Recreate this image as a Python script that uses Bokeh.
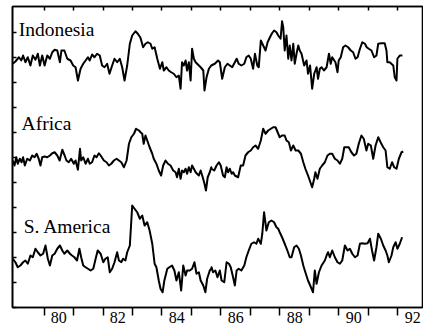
from bokeh.plotting import figure
from bokeh.models import FixedTicker, LinearAxis, Label, Range1d
from bokeh.embed import file_html
from bokeh.resources import INLINE

# ---- data (standardized anomalies) ----
indonesia_year = [1978.94, 1979.03, 1979.15, 1979.23, 1979.29, 1979.37, 1979.45, 1979.54, 1979.62, 1979.71,
                  1979.79, 1979.86, 1979.94, 1980.02, 1980.11, 1980.20, 1980.28, 1980.36, 1980.45, 1980.54,
                  1980.59, 1980.69, 1980.79, 1980.90, 1980.99, 1981.07, 1981.15, 1981.24, 1981.33, 1981.41,
                  1981.49, 1981.55, 1981.63, 1981.71, 1981.80, 1981.89, 1981.97, 1982.05, 1982.14, 1982.22,
                  1982.31, 1982.39, 1982.48, 1982.57, 1982.65, 1982.73, 1982.82, 1982.91, 1982.99, 1983.10,
                  1983.18, 1983.27, 1983.36, 1983.44, 1983.52, 1983.61, 1983.67, 1983.75, 1983.84, 1983.93,
                  1984.01, 1984.06, 1984.15, 1984.23, 1984.31, 1984.40, 1984.49, 1984.57, 1984.63, 1984.68,
                  1984.74, 1984.80, 1984.85, 1984.91, 1984.97, 1985.02, 1985.08, 1985.14, 1985.19, 1985.31,
                  1985.40, 1985.44, 1985.51, 1985.59, 1985.67,
                  1985.79, 1985.90, 1985.96, 1986.04, 1986.13, 1986.22, 1986.30, 1986.38, 1986.47, 1986.53,
                  1986.60, 1986.69, 1986.79, 1986.86, 1986.94, 1987.01, 1987.09, 1987.15, 1987.23, 1987.28,
                  1987.35, 1987.43, 1987.51, 1987.58, 1987.66, 1987.73, 1987.80, 1987.88, 1987.94, 1988.02,
                  1988.07, 1988.11, 1988.16, 1988.22, 1988.28, 1988.33, 1988.39, 1988.45, 1988.50, 1988.56,
                  1988.62, 1988.67, 1988.73, 1988.82, 1988.90, 1988.95, 1989.02, 1989.09, 1989.16, 1989.24,
                  1989.29, 1989.35, 1989.41, 1989.49, 1989.58, 1989.66, 1989.72, 1989.77, 1989.84, 1989.88,
                  1989.95, 1989.99, 1990.06, 1990.14, 1990.22, 1990.31, 1990.40, 1990.48, 1990.56, 1990.63,
                  1990.71, 1990.79, 1990.88, 1990.94, 1991.01, 1991.10, 1991.19, 1991.27, 1991.33, 1991.44,
                  1991.55, 1991.61, 1991.64, 1991.72, 1991.84, 1991.89, 1991.95, 1991.98, 1992.06, 1992.15]
indonesia_anom = [-0.25, -0.16, 0.01, -0.12, 0.08, -0.19, 0.01, -0.32, 0.08, -0.09,
                  0.15, -0.32, 0.08, -0.32, 0.08, -0.05, 0.21, 0.31, 0.28, -0.19,
                  0.28, 0.28, -0.05, -0.12, -0.32, -0.39, -0.92, -0.45, -0.25, -0.12,
                  0.01, -0.12, 0.12, 0.01, 0.15, 0.08, -0.32, -0.39, -0.25, -0.65,
                  -0.32, -0.05, -0.19, -0.05, -0.39, -0.92, -0.32, 0.55, 0.88, 1.05,
                  0.95, 0.79, 0.41, 0.55, 0.61, 0.55, 0.35, 0.41, -0.05, -0.45,
                  -0.19, -0.52, -0.39, -0.52, -0.59, -0.65, -0.79, -0.72, -1.25, -0.19,
                  -0.32, -0.12, -0.52, -0.19, -0.92, 0.35, -0.05, -0.19, -0.25, -0.39,
                  -0.52, -1.32, -0.79, -0.45, -0.32,
                  -0.25, -0.12, -0.19, -0.85, -0.39, -0.25, -0.32, -0.39, -0.19, -0.05,
                  -0.25, -0.32, -0.25, 0.01, 0.08, -0.05, -0.45, 0.15, -0.32, -0.39,
                  0.68, 0.48, 0.28, 0.61, 0.81, 0.97, 1.08, 1.01, 0.88, 0.75,
                  1.45, 1.21, 0.28, 0.88, -0.05, 0.48, -0.12, 0.55, -0.25, 0.15,
                  0.48, 0.28, 0.15, -0.32, -0.12, -0.65, -0.32, -1.25, -0.65, -0.39,
                  -0.85, -0.45, -0.39, -0.52, -0.39, 0.15, -0.25, 0.01, -0.12, -0.19,
                  -0.59, -0.12, 0.01, 0.41, 0.48, 0.41, 0.28, 0.21, -0.05, 0.01,
                  0.35, 0.61, 0.55, 0.41, 0.35, 0.28, 0.01, 0.08, 0.55, 0.57,
                  0.57, 0.28, -0.19, -0.19, -0.32, -0.79, -0.92, -0.05, 0.08, 0.08]

africa_year = [1978.94, 1979.00, 1979.06, 1979.11, 1979.18, 1979.24, 1979.29, 1979.35, 1979.43, 1979.52,
               1979.60, 1979.68, 1979.75, 1979.82, 1979.88, 1979.94, 1980.02, 1980.11, 1980.20, 1980.28,
               1980.36, 1980.45, 1980.53, 1980.62, 1980.70, 1980.76, 1980.84, 1980.92, 1981.01, 1981.07,
               1981.15, 1981.22, 1981.26, 1981.33, 1981.41, 1981.49, 1981.55, 1981.63, 1981.71, 1981.78,
               1981.86, 1981.92, 1982.03, 1982.12, 1982.20, 1982.28, 1982.37, 1982.46, 1982.54, 1982.62,
               1982.71, 1982.80, 1982.88, 1982.96, 1983.05, 1983.12, 1983.22, 1983.27, 1983.33, 1983.38,
               1983.44, 1983.50, 1983.58, 1983.67, 1983.72, 1983.81, 1983.89, 1983.97, 1984.04, 1984.12,
               1984.20, 1984.29, 1984.38, 1984.46, 1984.51, 1984.57, 1984.63, 1984.68, 1984.74, 1984.80,
               1984.85, 1984.91, 1984.97, 1985.02, 1985.08, 1985.14, 1985.19, 1985.25, 1985.31, 1985.38,
               1985.44, 1985.49, 1985.55, 1985.62, 1985.67,
               1985.68, 1985.77, 1985.85, 1985.93, 1985.99, 1986.07, 1986.13, 1986.19, 1986.24, 1986.30,
               1986.36, 1986.41, 1986.47, 1986.58, 1986.67, 1986.75, 1986.83, 1986.92, 1987.01, 1987.09,
               1987.17, 1987.26, 1987.35, 1987.43, 1987.51, 1987.60, 1987.69, 1987.77, 1987.85, 1987.92,
               1987.99, 1988.07, 1988.16, 1988.22, 1988.30, 1988.37, 1988.45, 1988.53, 1988.62, 1988.71,
               1988.79, 1988.86, 1988.95, 1989.01, 1989.09, 1989.16, 1989.20, 1989.27, 1989.35, 1989.43,
               1989.52, 1989.61, 1989.69, 1989.77, 1989.86, 1989.95, 1990.03, 1990.11, 1990.18, 1990.25,
               1990.33, 1990.42, 1990.51, 1990.59, 1990.67, 1990.76, 1990.84, 1990.93, 1990.99, 1991.08,
               1991.16, 1991.24, 1991.33, 1991.41, 1991.50, 1991.58, 1991.64, 1991.72, 1991.80, 1991.87,
               1991.95, 1992.03, 1992.12, 1992.18]
africa_anom = [-0.12, -0.32, 0.01, -0.25, -0.05, -0.19, 0.01, -0.32, -0.05, -0.12,
               0.08, 0.01, 0.15, -0.05, -0.32, 0.01, 0.04, 0.01, 0.08, 0.17,
               0.21, 0.08, -0.12, 0.31, 0.08, -0.12, -0.19, -0.05, -0.25, -0.12,
               -0.49, 0.35, -0.12, 0.01, -0.25, -0.05, -0.25, -0.19, 0.08, 0.01,
               0.17, 0.08, -0.12, -0.19, -0.32, -0.25, -0.12, -0.05, -0.12, -0.19,
               -0.39, -0.12, 0.55, 0.81, 0.95, 1.15, 1.08, 1.01, 0.95, 0.55,
               0.88, 0.68, 0.41, 0.15, -0.05, -0.25, -0.52, -0.72, -0.32, -0.12,
               -0.25, -0.32, -0.52, -0.59, -0.79, -0.45, -0.85, -0.52, -0.59, -0.45,
               -0.65, -0.39, -0.59, -0.32, -0.45, -0.59, -0.65, -0.72, -0.52, -0.79,
               -1.05, -1.32, -0.79, -0.59, -0.39,
               -0.45, -0.52, -0.32, -0.19, -0.32, -0.72, -0.79, -0.39, -0.59, -0.45,
               -0.65, -0.59, -0.72, -0.79, -0.32, -0.32, 0.08, 0.21, 0.28, 0.41,
               0.48, 0.35, 0.68, 1.15, 0.95, 1.08, 1.15, 1.21, 1.21, 1.01,
               0.81, 0.88, 0.88, 0.68, 0.61, 0.28, 0.48, 0.28, 0.28, 0.15,
               -0.19, -0.45, -0.72, -0.92, -1.19, -0.85, -0.59, -0.85, -0.45, -0.32,
               -0.19, 0.08, 0.15, 0.15, -0.05, -0.12, -0.25, -0.05, 0.41, 0.41,
               0.41, 0.21, 0.08, 0.15, 0.55, 0.88, 0.75, 0.28, 0.55, 0.48,
               -0.05, 0.48, 0.81, 0.61, 0.41, 0.28, -0.39, -0.45, -0.19, -0.39,
               -0.45, -0.05, 0.21, 0.24]

samerica_year = [1978.94, 1979.03, 1979.11, 1979.20, 1979.29, 1979.37, 1979.45, 1979.54, 1979.62, 1979.71,
                 1979.79, 1979.88, 1979.97, 1980.05, 1980.13, 1980.20, 1980.28, 1980.36, 1980.45, 1980.54,
                 1980.62, 1980.69, 1980.79, 1980.88, 1980.95, 1981.03, 1981.12, 1981.20, 1981.26, 1981.33,
                 1981.41, 1981.49, 1981.58, 1981.67, 1981.75, 1981.82, 1981.92, 1982.01, 1982.08, 1982.16,
                 1982.23, 1982.31, 1982.39, 1982.48, 1982.54, 1982.62, 1982.68, 1982.76, 1982.82, 1982.91,
                 1982.99, 1983.07, 1983.16, 1983.25, 1983.33, 1983.41, 1983.50, 1983.58, 1983.67, 1983.75,
                 1983.81, 1983.89, 1983.95, 1984.02, 1984.08, 1984.18, 1984.25, 1984.34, 1984.42, 1984.49,
                 1984.57, 1984.65, 1984.72, 1984.80, 1984.85, 1984.94, 1985.02, 1985.10, 1985.17, 1985.25,
                 1985.31, 1985.40, 1985.47, 1985.53, 1985.62, 1985.67,
                 1985.68, 1985.73, 1985.81, 1985.88, 1985.96, 1986.02, 1986.11, 1986.19, 1986.27, 1986.33,
                 1986.41, 1986.47, 1986.53, 1986.60, 1986.69, 1986.79, 1986.86, 1986.94, 1987.03, 1987.12,
                 1987.20, 1987.26, 1987.35, 1987.40, 1987.46, 1987.54, 1987.62, 1987.71, 1987.80, 1987.88,
                 1987.94, 1987.99, 1988.07, 1988.16, 1988.25, 1988.33, 1988.39, 1988.48, 1988.56, 1988.64,
                 1988.71, 1988.79, 1988.86, 1988.95, 1989.05, 1989.12, 1989.18, 1989.24, 1989.32, 1989.41,
                 1989.52, 1989.58, 1989.63, 1989.69, 1989.77, 1989.86, 1989.95, 1990.03, 1990.11, 1990.20,
                 1990.29, 1990.37, 1990.45, 1990.54, 1990.63, 1990.71, 1990.79, 1990.88, 1990.97, 1991.05,
                 1991.12, 1991.19, 1991.27, 1991.33, 1991.42, 1991.50, 1991.58, 1991.64, 1991.69, 1991.78,
                 1991.84, 1991.92, 1991.98, 1992.06, 1992.14]
samerica_anom = [-0.05, -0.19, -0.39, -0.32, -0.19, -0.12, -0.25, 0.08, 0.01, 0.35,
                 0.21, 0.08, 0.15, 0.48, -0.05, -0.32, 0.08, 0.15, 0.35, 0.48,
                 0.28, 0.15, 0.28, 0.15, 0.08, 0.01, -0.12, 0.35, 0.01, -0.32,
                 -0.39, -0.45, -0.52, -0.45, -0.05, 0.28, 0.15, -0.19, -0.05, 0.01,
                 -0.59, -0.45, -0.19, 0.21, -0.12, -0.19, -0.05, -0.12, 0.21, 0.48,
                 2.08, 1.95, 1.81, 1.55, 1.68, 1.28, 1.41, 1.08, 0.55, -0.25,
                 -0.39, -0.92, -1.25, -1.39, -0.92, -0.45, -0.39, -0.32, -0.52, -0.92,
                 -0.59, -1.32, -0.32, -0.72, -0.52, -0.52, -0.45, -0.19, -0.65, -0.59,
                 -0.92, -1.12, -1.39, -0.85, -0.52, -0.45,
                 -0.39, -0.59, -0.52, -0.79, -0.52, -0.92, -0.99, -0.19, -0.25, -0.39,
                 -0.79, -1.12, -0.52, -0.45, -0.52, -0.32, 0.01, 0.28, 0.55, 0.61,
                 0.55, 0.75, 0.55, 0.95, 1.81, 1.08, 1.41, 1.48, 1.41, 1.21,
                 1.15, 1.01, 0.81, 0.55, 0.28, 0.01, 0.01, 0.41, 0.48, 0.35,
                 0.08, -0.32, -0.59, -0.92, -1.19, -1.39, -0.52, -1.05, -0.59, -0.32,
                 -0.12, 0.08, 0.21, 0.01, 0.28, 0.01, -0.19, -0.25, -0.12, 0.48,
                 0.28, 0.35, 0.15, 0.01, 0.08, 0.55, 0.57, 0.55, 0.57, 0.75,
                 0.28, -0.12, 0.41, 0.95, 0.75, 0.48, 0.28, 0.08, -0.19, 0.08,
                 0.41, 0.61, 0.35, 0.55, 0.81]

series_names = ["Indonesia", "Africa", "S. America"]
series_offsets = [10, 6, 2]          # vertical stacking of the three panels
year_ticks = list(range(1980, 1993))
year_label_pos = [1980.5, 1982.5, 1984.5, 1986.5, 1988.5, 1990.5, 1992.5]
year_label_text = ["80", "82", "84", "86", "88", "90", "92"]
panel_ticks = list(range(0, 12))

FONT = "Liberation Serif"

p = figure(frame_width=410, frame_height=301,
           x_range=Range1d(1978.932, 1992.831), y_range=Range1d(0, 12.04),
           x_axis_location=None, y_axis_location=None,
           output_backend="svg", toolbar_location=None,
           min_border_left=12, min_border_right=1, min_border_top=6, min_border_bottom=0,
           background_fill_color="white", border_fill_color="white")
p.grid.visible = False
p.outline_line_color = "black"
p.outline_line_width = 1.6

# bottom axis: year boundary ticks (minor) + labels centred in the year
bottom = LinearAxis(ticker=FixedTicker(ticks=year_label_pos, minor_ticks=year_ticks),
                    major_label_overrides=dict(zip(year_label_pos, year_label_text)),
                    major_tick_in=0, major_tick_out=0,
                    minor_tick_in=0, minor_tick_out=8,
                    minor_tick_line_width=1.5, minor_tick_line_color="black",
                    axis_line_width=1.6, axis_line_color="black",
                    major_label_standoff=-4,
                    major_label_text_font=FONT, major_label_text_font_size="16px",
                    major_label_text_color="black")
p.add_layout(bottom, "below")

top = LinearAxis(ticker=FixedTicker(ticks=year_ticks),
                 major_label_overrides={t: "" for t in year_ticks},
                 major_tick_in=4, major_tick_out=0, major_tick_line_width=1.5,
                 minor_tick_in=0, minor_tick_out=0,
                 axis_line_width=1.6, major_label_standoff=0,
                 major_label_text_font_size="1px")
p.add_layout(top, "above")

left = LinearAxis(ticker=FixedTicker(ticks=panel_ticks),
                  major_label_overrides={t: "" for t in panel_ticks},
                  major_tick_in=4, major_tick_out=0, major_tick_line_width=1.5,
                  minor_tick_in=0, minor_tick_out=0,
                  axis_line_width=1.6, major_label_standoff=0,
                  major_label_text_font_size="1px")
p.add_layout(left, "left")

all_years = [indonesia_year, africa_year, samerica_year]
all_anoms = [indonesia_anom, africa_anom, samerica_anom]
for yrs, an, off in zip(all_years, all_anoms, series_offsets):
    n = min(len(yrs), len(an))
    p.line(yrs[:n], [v + off for v in an[:n]], line_color="black", line_width=2.0,
           line_join="round")

label_pos = [(1979.14, 11.12), (1979.24, 7.36), (1979.31, 3.24)]
for name, (lx, ly) in zip(series_names, label_pos):
    p.add_layout(Label(x=lx, y=ly, text=name, text_font=FONT, text_font_size="19.5px",
                       text_color="black", text_baseline="alphabetic"))

open("out.html", "w").write(file_html(p, INLINE))
